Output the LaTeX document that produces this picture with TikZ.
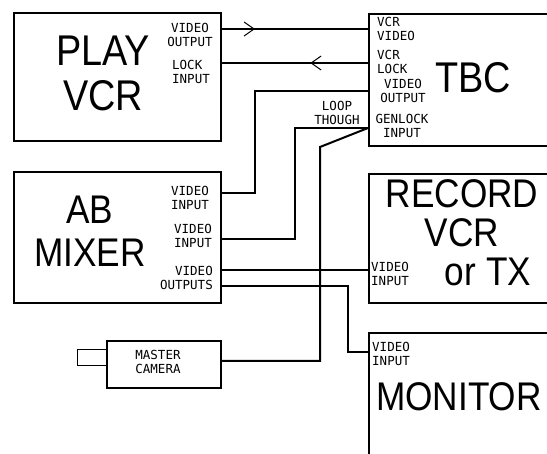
\documentclass[tikz,border=0pt]{standalone}
\usepackage{fontspec}
\setmainfont{Liberation Sans}
\newfontfamily\bigfont[FakeStretch=0.88]{Liberation Sans}
\newfontfamily\portfont{DejaVu Sans Mono}
\usetikzlibrary{arrows.meta,positioning,calc,decorations.markings}

\begin{document}
\begin{tikzpicture}[
    x=1pt, y=-1pt,
    box/.style={draw, line width=2pt, inner sep=0, anchor=north west},
    title/.style={font=\bigfont\fontsize{40}{43}\selectfont, align=center, inner sep=0},
    port/.style={font=\portfont\fontsize{12.5}{14}\selectfont, align=center, inner sep=0},
    wire/.style={line width=2pt},
    chev/.style={postaction={decorate, decoration={markings,
        mark=at position #1 with {\arrow{Straight Barb[length=10pt,width=14pt,line width=1pt]}}}}}
]
\useasboundingbox (0,0) rectangle (547,454);
\clip (0,0) rectangle (547,454);

% equipment boxes (the right hand ones run off the page)
\node[box, minimum width=207pt, minimum height=128pt] (playvcr) at (13,12) {};
\node[box, minimum width=200pt, minimum height=132pt] (tbc) at (368,13) {};
\node[box, minimum width=207pt, minimum height=131pt] (mixer) at (13,171) {};
\node[box, minimum width=200pt, minimum height=129pt] (record) at (368,173) {};
\node[box, minimum width=200pt, minimum height=140pt] (monitor) at (368,332) {};
\node[box, minimum width=114pt, minimum height=47pt] (camera) at (106,340) {};
\node[box, line width=1.2pt, minimum width=29pt, minimum height=16pt] (lens) at (77,349) {};

% big titles
\node[title, font=\bigfont\fontsize{43}{45}\selectfont] (playname) at (103,73) {PLAY\\VCR};
\node[title, font=\bigfont\fontsize{43}{45}\selectfont] (tbcname) at (473,78) {TBC};
\node[title] (mixname) at (90,231) {AB\\MIXER};
\node[title, font=\bigfont\fontsize{40}{39}\selectfont] (recname) at (462,213) {RECORD\\VCR};
\node[title] (txname) at (488,272) {or TX};
\node[title] (monname) at (459,397) {MONITOR};
\node[port] (camname) at (158,362) {MASTER\\CAMERA};

% port labels
\node[port] (pvoutlbl) at (190,35) {VIDEO\\OUTPUT};
\node[port, align=left] (pvlocklbl) at (191,72) {LOCK\\INPUT};
\node[port, align=left, anchor=west] (tbcvinlbl) at (377,29) {VCR\\VIDEO};
\node[port, align=left, anchor=west] (tbclocklbl) at (377,62) {VCR\\LOCK};
\node[port] (tbcvoutlbl) at (403,91) {VIDEO\\OUTPUT};
\node[port] (genlocklbl) at (402,126) {GENLOCK\\INPUT};
\node[port] (looplbl) at (337,113) {LOOP\\THOUGH};
\node[port] (mixin1lbl) at (190,198) {VIDEO\\INPUT};
\node[port] (mixin2lbl) at (193,236) {VIDEO\\INPUT};
\node[port, align=right, anchor=east] (mixoutlbl) at (213,278) {VIDEO\\OUTPUTS};
\node[port, align=left, anchor=west] (recinlbl) at (371,274) {VIDEO\\INPUT};
\node[port, align=left, anchor=west] (moninlbl) at (372,354) {VIDEO\\INPUT};

% connection points
\coordinate (pvout) at (220,29);
\coordinate (pvlock) at (220,63);
\coordinate (tbcvin) at (368,29);
\coordinate (tbclock) at (368,63);
\coordinate (tbcvout) at (368,91);
\coordinate (genlock) at (368,128);
\coordinate (mixin1) at (220,193);
\coordinate (mixin2) at (220,239);
\coordinate (mixout1) at (220,270);
\coordinate (mixout2) at (220,286);
\coordinate (recin) at (368,270);
\coordinate (monin) at (368,352);
\coordinate (camout) at (220,361);

% cables
\draw[wire, chev=0.236] (pvout) -- (tbcvin);
\draw[wire, chev=0.39] (tbclock) -- (pvlock);
\draw[wire] (tbcvout) -- ++(-113,0) |- (mixin1);
\draw[wire] (mixin2) -- ++(75,0) |- (genlock);
\draw[wire] (camout) -- ++(100,0) -- ++(0,-214) -- (genlock);
\draw[wire] (mixout1) -- (recin);
\draw[wire] (mixout2) -- ++(128,0) |- (monin);
\end{tikzpicture}
\end{document}
